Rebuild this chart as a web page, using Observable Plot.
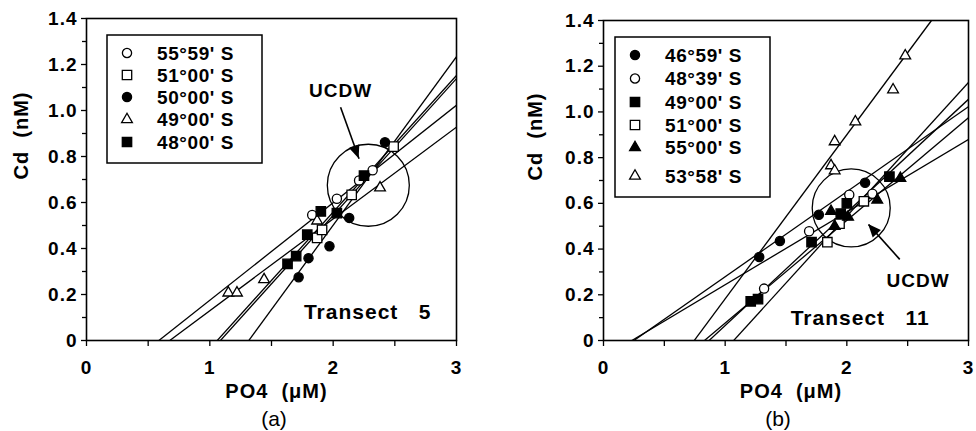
<!DOCTYPE html>
<html><head><meta charset="utf-8">
<script src="https://cdn.jsdelivr.net/npm/d3@7"></script>
<script src="https://cdn.jsdelivr.net/npm/@observablehq/plot@0.6"></script>
<style>
body{margin:0;background:#fff;}
#wrap{position:relative;width:976px;height:431px;overflow:hidden;font-family:"Liberation Sans",Arial,Helvetica,sans-serif;background:#fff;}
.panel{position:absolute;top:0;}
.panel svg{overflow:visible;}
.panel text{letter-spacing:1px;}
.cap{position:absolute;top:407px;font-size:21px;width:60px;text-align:center;font-family:"Liberation Sans",Arial,sans-serif;}
</style></head><body><div id="wrap"></div>
<script>
// ---------- shared axis data ----------
const xTickLabels = [0, 1, 2, 3];
const xTickMarks = [0, 0.5, 1, 1.5, 2, 2.5, 3];
const yTickLabels = [0, 0.2, 0.4, 0.6, 0.8, 1.0, 1.2, 1.4];
const yMinorTicks = [0.1, 0.3, 0.5, 0.7, 0.9, 1.1, 1.3];
const xTitle = "PO4\u00a0\u00a0(\u03bcM)";
const yTitle = "Cd\u00a0\u00a0(nM)";

// ---------- panel (a) Transect 5 ----------
const aNames = ["55°59' S", "51°00' S", "50°00' S", "49°00' S", "48°00' S"];
const aSymbols = ["circle", "square", "circle", "triangle", "square"];
const aFilled = [false, false, true, false, true];
const aX = [
  [1.83, 2.03, 2.21, 2.32],
  [1.87, 1.91, 2.15, 2.49],
  [1.72, 1.80, 1.97, 2.13, 2.42],
  [1.15, 1.22, 1.44, 1.87, 2.38],
  [1.63, 1.70, 1.79, 1.90, 2.03, 2.25]
];
const aY = [
  [0.546, 0.616, 0.696, 0.74],
  [0.446, 0.481, 0.633, 0.843],
  [0.275, 0.358, 0.41, 0.533, 0.862],
  [0.207, 0.207, 0.265, 0.52, 0.664],
  [0.333, 0.367, 0.46, 0.561, 0.554, 0.717]
];
const aIntercept = [0.587, 1.086, 1.316, 0.675, 1.06];
const aSlope = [0.424, 0.595, 0.733, 0.399, 0.594];
const aUcdw = {x: 2.285, y: 0.675, label: "UCDW", lx: 2.06, ly: 1.087, ax1: 2.06, ay1: 1.014, ax2: 2.21, ay2: 0.79};
const aTransect = {text: "Transect\u00a0\u00a0\u00a05", x: 2.28, y: 0.123};

// ---------- panel (b) Transect 11 ----------
const bNames = ["46°59' S", "48°39' S", "49°00' S", "51°00' S", "55°00' S", "53°58' S"];
const bSymbols = ["circle", "circle", "square", "square", "triangle", "triangle"];
const bFilled = [true, false, true, false, true, false];
const bX = [
  [1.28, 1.45, 1.77, 2.15],
  [1.32, 1.69, 2.02, 2.21],
  [1.21, 1.27, 1.71, 1.95, 2.00, 2.35],
  [1.84, 1.94, 2.14],
  [1.87, 1.90, 2.01, 2.25, 2.44],
  [1.87, 1.90, 1.90, 2.07, 2.38, 2.48]
];
const bY = [
  [0.365, 0.435, 0.55, 0.69],
  [0.227, 0.478, 0.638, 0.642],
  [0.171, 0.181, 0.43, 0.555, 0.60, 0.717],
  [0.43, 0.511, 0.609],
  [0.565, 0.50, 0.54, 0.615, 0.71],
  [0.765, 0.743, 0.87, 0.957, 1.097, 1.246]
];
const bIntercept = [0.25, 0.83, 0.868, 1.07, 0.233, 0.746];
const bSlope = [0.372, 0.449, 0.495, 0.585, 0.318, 0.718];
const bUcdw = {x: 2.036, y: 0.58, label: "UCDW", lx: 2.585, ly: 0.26, ax1: 2.435, ay1: 0.355, ax2: 2.179, ay2: 0.507};
const bTransect = {text: "Transect\u00a0\u00a0\u00a011", x: 2.11, y: 0.098};

const FONT = "'Liberation Sans', Arial, Helvetica, sans-serif";
const symR = {circle: 4.6, square: 5.3, triangle: 4.0};

function makePanel(p) {
  const segs = p.names.map((n, i) => {
    const x0 = p.intercept[i], m = p.slope[i];
    let x2 = 3, y2 = m * (3 - x0);
    if (y2 > 1.4) { y2 = 1.4; x2 = x0 + 1.4 / m; }
    return {x1: x0, y1: 0, x2, y2};
  });
  const dotMarks = p.names.map((n, i) => Plot.dot(
    p.xs[i].map((x, j) => ({x, y: p.ys[i][j]})),
    {x: "x", y: "y", symbol: p.symbols[i], r: symR[p.symbols[i]],
     fill: p.filled[i] ? "black" : "white", stroke: "black", strokeWidth: 1.3}
  ));
  const plot = Plot.plot({
    width: 488, height: 431,
    marginLeft: p.ml, marginRight: p.mr, marginTop: p.mt, marginBottom: 91,
    x: {domain: [0, 3]},
    y: {domain: [0, 1.4]},
    style: {fontFamily: FONT, fontSize: "19px", fontWeight: "bold", background: "transparent", color: "black"},
    marks: [
      Plot.link(segs, {x1: "x1", y1: "y1", x2: "x2", y2: "y2", stroke: "black", strokeWidth: 1.3, clip: true}),
      Plot.dot([p.ucdw], {x: "x", y: "y", r: p.ucdwR, fill: "none", stroke: "black", strokeWidth: 1.3}),
      Plot.link([p.ucdw], {x1: "ax1", y1: "ay1", x2: "ax2", y2: "ay2", stroke: "black", strokeWidth: 1.6}),
      ...dotMarks,
      Plot.text([p.ucdw], {x: "lx", y: "ly", text: "label", fontSize: 19, fontWeight: "bold"}),
      Plot.text([p.transect], {x: "x", y: "y", text: "text", fontSize: 21, fontWeight: "bold"}),
      Plot.axisX({ticks: xTickMarks, tickSize: 6, tickFormat: () => "", label: null, strokeWidth: 1.3}),
      Plot.axisX({ticks: xTickLabels, tickSize: 0, tickPadding: 20, tickFormat: d => String(d), label: null, fontSize: 19, fontWeight: "bold"}),
      Plot.axisY({ticks: yMinorTicks, tickSize: 4, tickFormat: () => "", label: null, strokeWidth: 1.3}),
      Plot.axisY({ticks: yTickLabels, tickSize: 5, tickPadding: 4, tickFormat: d => d === 0 ? "0" : d.toFixed(1), label: null, fontSize: 19, fontWeight: "bold", strokeWidth: 1.3}),
      Plot.text([yTitle], {text: d => d, frameAnchor: "left", dx: p.yTitleDx, rotate: -90, fontSize: 20, fontWeight: "bold"}),
      Plot.text([xTitle], {text: d => d, frameAnchor: "bottom", dy: 57, dx: 5, fontSize: 20, fontWeight: "bold"}),
      Plot.frame({stroke: "black", strokeWidth: 1.6})
    ]
  });
  const svg = d3.select(plot);
  const sx = plot.scale("x"), sy = plot.scale("y");
  // filled arrowhead at the tip of the UCDW pointer
  const tx = sx.apply(p.ucdw.ax2), ty = sy.apply(p.ucdw.ay2);
  const fx = sx.apply(p.ucdw.ax1), fy = sy.apply(p.ucdw.ay1);
  const ang = Math.atan2(ty - fy, tx - fx);
  const L = 13, W = 5.5;
  const bx = tx - L * Math.cos(ang), by = ty - L * Math.sin(ang);
  const nx = -Math.sin(ang), ny = Math.cos(ang);
  svg.append("polygon")
    .attr("points", [[tx, ty], [bx + W * nx, by + W * ny], [bx - W * nx, by - W * ny]].map(q => q.join(",")).join(" "))
    .attr("fill", "black");
  // legend
  const lg = svg.append("g").attr("transform", `translate(${p.legend.left},${p.legend.top})`);
  lg.append("rect").attr("width", p.legend.w).attr("height", p.legend.h)
    .attr("fill", "white").attr("stroke", "black").attr("stroke-width", 1.5);
  const symMap = {circle: d3.symbolCircle, square: d3.symbolSquare, triangle: d3.symbolTriangle};
  p.names.forEach((n, i) => {
    const yy = p.legend.rows[i];
    const r = symR[p.symbols[i]];
    lg.append("path")
      .attr("d", d3.symbol(symMap[p.symbols[i]], Math.PI * r * r)())
      .attr("transform", `translate(20,${yy})`)
      .attr("fill", p.filled[i] ? "black" : "white")
      .attr("stroke", "black").attr("stroke-width", 1.3);
    lg.append("text").attr("x", 50).attr("y", yy).attr("dy", "0.36em")
      .attr("text-anchor", "start")
      .attr("font-family", FONT).attr("font-size", 19).attr("font-weight", "bold")
      .style("letter-spacing", "0.6px")
      .text(n);
  });
  return plot;
}

const wrap = document.getElementById("wrap");
const pa = makePanel({
  names: aNames, symbols: aSymbols, filled: aFilled, xs: aX, ys: aY,
  intercept: aIntercept, slope: aSlope, ucdw: aUcdw, ucdwR: 41, transect: aTransect,
  ml: 86, mr: 32, mt: 18, yTitleDx: -65,
  legend: {left: 107, top: 35, w: 155, h: 128, rows: [18, 40, 62, 84.5, 107]}
});
const pb = makePanel({
  names: bNames, symbols: bSymbols, filled: bFilled, xs: bX, ys: bY,
  intercept: bIntercept, slope: bSlope, ucdw: bUcdw, ucdwR: 39, transect: bTransect,
  ml: 115, mr: 8, mt: 20, yTitleDx: -68,
  legend: {left: 127, top: 37, w: 155, h: 160, rows: [18, 41.5, 65, 88, 110.5, 139]}
});
const da = document.createElement("div"); da.className = "panel"; da.style.left = "0px"; da.appendChild(pa);
const db = document.createElement("div"); db.className = "panel"; db.style.left = "488px"; db.appendChild(pb);
wrap.appendChild(da); wrap.appendChild(db);
const ca = document.createElement("div"); ca.className = "cap"; ca.style.left = (274 - 30) + "px"; ca.textContent = "(a)";
const cb = document.createElement("div"); cb.className = "cap"; cb.style.left = (778 - 30) + "px"; cb.textContent = "(b)";
wrap.appendChild(ca); wrap.appendChild(cb);
</script>
</body></html>
